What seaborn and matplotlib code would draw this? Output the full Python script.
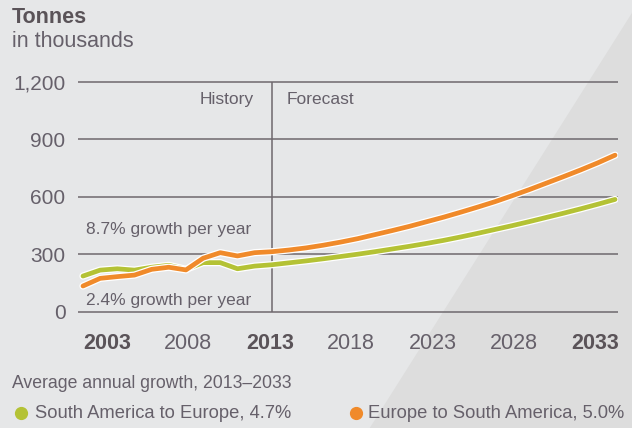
import numpy as np
import pandas as pd
import matplotlib
matplotlib.use("Agg")
import matplotlib.pyplot as plt
import matplotlib.patheffects as pe
from matplotlib.patches import Polygon
from matplotlib.lines import Line2D
import seaborn as sns

# ---- data ----
years = list(range(2002, 2034))
split_year = 2013

# South America to Europe (green)
sa_to_eu = [186, 217, 224, 217, 232, 242, 221, 256, 256, 224, 238, 245,
            255, 265, 276, 288, 300, 313, 327, 341, 356, 372, 390, 409,
            429, 449, 470, 492, 514, 537, 561, 586]
# Europe to South America (orange)
eu_to_sa = [134, 174, 183, 191, 221, 232, 218, 279, 308, 291, 308, 313,
            322, 333, 347, 363, 381, 402, 423, 445, 469, 493, 519, 546,
            574, 605, 637, 671, 705, 740, 777, 817]

routes = ["South America to Europe", "Europe to South America"]
growth = ["4.7%", "5.0%"]
tick_years = ["2003", "2008", "2013", "2018", "2023", "2028", "2033"]
bold_years = ["2003", "2013", "2033"]
y_ticks = [0, 300, 600, 900, 1200]
y_labels = ["0", "300", "600", "900", "1,200"]

df = pd.DataFrame({
    "year": years * 2,
    "tonnes": sa_to_eu + eu_to_sa,
    "route": [routes[0]] * len(years) + [routes[1]] * len(years),
})

GREEN = "#b4c235"
ORANGE = "#f08a2a"
TEXT = "#66606a"      # light text
TEXT_B = "#5a5358"    # bold text
GRID = "#6e686d"
BG = "#e6e7e8"
palette = {routes[0]: GREEN, routes[1]: ORANGE}

sns.set_theme(style="white")
plt.rcParams["font.family"] = ["Liberation Sans", "DejaVu Sans"]

fig = plt.figure(figsize=(6.32, 4.28), dpi=100, facecolor=BG)
# darker diagonal wedge on the right
fig.add_artist(Polygon([(1.0, 0.970), (0.585, 0.0), (1.0, 0.0)], closed=True,
                       transform=fig.transFigure, facecolor="#dddddd",
                       edgecolor="none", zorder=-1))

ax = fig.add_axes([0.1234, 0.2628, 0.8544, 0.5551])
ax.set_facecolor("none")

sns.lineplot(data=df, x="year", y="tonnes", hue="route", palette=palette,
             linewidth=3.4, ax=ax, legend=False, zorder=3)
for ln in ax.lines:
    ln.set_solid_capstyle("round")
    ln.set_path_effects([pe.Stroke(linewidth=5.2, foreground="white"), pe.Normal()])

ax.set_xlim(2001.71, 2033.17)
ax.set_ylim(-20, 1220)

ax.set_yticks(y_ticks)
ax.set_yticklabels(y_labels, fontsize=15, color=TEXT)
ax.grid(axis="y", color=GRID, linewidth=1.1)
ax.grid(axis="x", visible=False)
ax.vlines(split_year, 0, 1200, color=GRID, linewidth=1.1, zorder=2)

# year labels spread evenly across the axis, as in the original layout
ax.set_xticks(np.linspace(2003.4, 2031.85, len(tick_years)))
ax.set_xticklabels(tick_years, fontsize=15.5, color=TEXT)
for lab in ax.get_xticklabels():
    if lab.get_text() in bold_years:
        lab.set_fontweight("bold")
        lab.set_color(TEXT_B)
ax.tick_params(axis="x", length=0, pad=12.5)
ax.tick_params(axis="y", length=0, pad=9)
ax.set_xlabel("")
ax.set_ylabel("")
for s in ax.spines.values():
    s.set_visible(False)

# History / Forecast labels
ax.annotate("History", xy=(split_year, 1110), xytext=(-13, 0), textcoords="offset points",
            ha="right", va="center", fontsize=12.5, color=TEXT)
ax.annotate("Forecast", xy=(split_year, 1110), xytext=(11, 0), textcoords="offset points",
            ha="left", va="center", fontsize=12.5, color=TEXT)

# growth notes
ax.annotate("8.7% growth per year", xy=(years[0], 431), xytext=(2, 0), textcoords="offset points",
            ha="left", va="center", fontsize=12.5, color=TEXT)
ax.annotate("2.4% growth per year", xy=(years[0], 61), xytext=(2, 0), textcoords="offset points",
            ha="left", va="center", fontsize=12.5, color=TEXT)

# title
fig.text(0.019, 0.958, "Tonnes", fontsize=15.5, fontweight="bold", color=TEXT_B, va="center")
fig.text(0.019, 0.902, "in thousands", fontsize=15.5, color=TEXT, va="center")

# legend at the bottom
fig.text(0.019, 0.103, "Average annual growth, 2013\u20132033", fontsize=12.7,
         color=TEXT, va="center")
legend_x = [(0.033, 0.055), (0.563, 0.582)]
for (mx, tx), r, g in zip(legend_x, routes, growth):
    fig.add_artist(Line2D([mx], [0.035], marker="o", markersize=8.5, linestyle="",
                          color=palette[r], transform=fig.transFigure))
    fig.text(tx, 0.035, f"{r}, {g}", fontsize=13.2, color=TEXT, va="center")

fig.savefig("out.png", dpi=100, facecolor=BG)
